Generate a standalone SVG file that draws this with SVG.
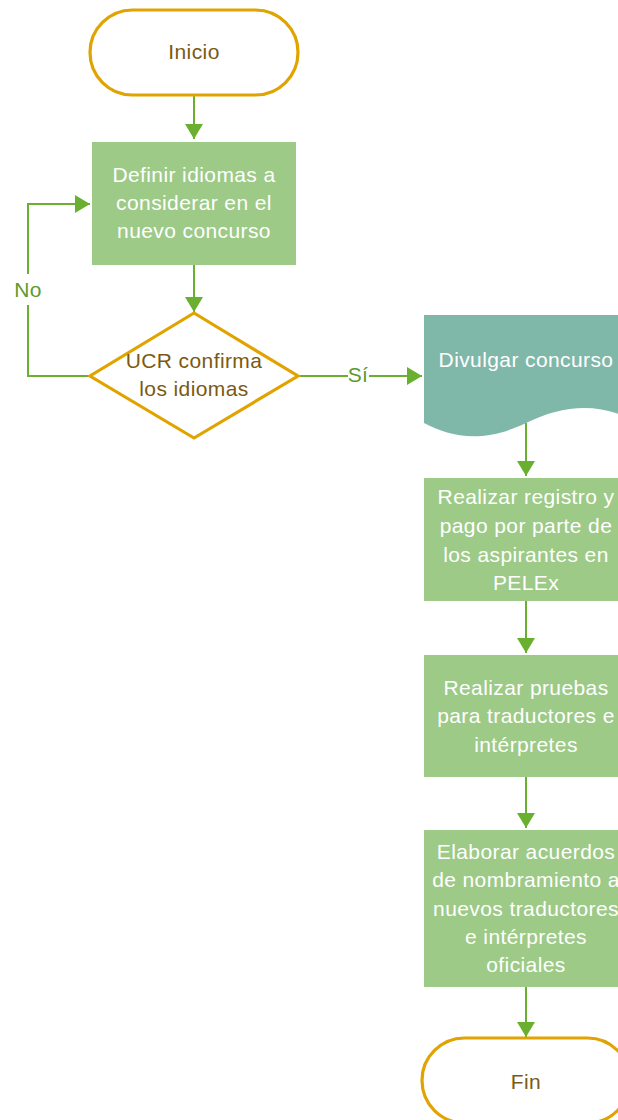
<svg xmlns="http://www.w3.org/2000/svg" width="618" height="1120" viewBox="0 0 618 1120">
<style>
.term{fill:#ffffff;stroke:#e0a300;stroke-width:3.2}
.dec{fill:#ffffff;stroke:#e0a300;stroke-width:3.2}
.proc{fill:#9dca87}
.doc{fill:#7fb8a9}
text{font-family:"Liberation Sans",Arial,sans-serif;font-size:21px;letter-spacing:0.4px;text-anchor:middle}
.tw{fill:#ffffff}
.tb{fill:#7a5a12}
.tl{fill:#5e9a2c}
.con{fill:none;stroke:#6aaf2f;stroke-width:2}
</style>
<defs>
<marker id="ah" markerWidth="15" markerHeight="18" refX="15" refY="9" orient="auto" markerUnits="userSpaceOnUse">
<path d="M0,0 L15,9 L0,18 Z" fill="#6aaf2f"/>
</marker>
</defs>
<g id="connectors">
<path class="con" d="M194,95 V139" marker-end="url(#ah)"/>
<path class="con" d="M194,265 V312" marker-end="url(#ah)"/>
<path class="con" d="M90,376 H28 V305 M28,274 V204 H90" marker-end="url(#ah)"/>
<path class="con" d="M298,376 H348 M369,376 H422" marker-end="url(#ah)"/>
<path class="con" d="M526,423 V476" marker-end="url(#ah)"/>
<path class="con" d="M526,601 V653" marker-end="url(#ah)"/>
<path class="con" d="M526,777 V828" marker-end="url(#ah)"/>
<path class="con" d="M526,987 V1037" marker-end="url(#ah)"/>
<text class="tl" x="28" y="297">No</text>
<text class="tl" x="358" y="382">Sí</text>
</g>
<g id="inicio">
<rect class="term" x="90" y="10" width="208" height="85" rx="42.5" ry="42.5"/>
<text class="tb" x="194" y="59">Inicio</text>
</g>
<g id="definir">
<rect class="proc" x="92" y="142" width="204" height="123"/>
<text class="tw" x="194" y="182">Definir idiomas a</text>
<text class="tw" x="194" y="210">considerar en el</text>
<text class="tw" x="194" y="238">nuevo concurso</text>
</g>
<g id="decision">
<path class="dec" d="M194,313 L298,376 L194,438 L90,376 Z"/>
<text class="tb" x="194" y="368">UCR confirma</text>
<text class="tb" x="194" y="396">los idiomas</text>
</g>
<g id="divulgar">
<path class="doc" d="M424,315 H628 V418 C595,402 560,406 526,423 C480,445 450,436 424,423 Z"/>
<text class="tw" x="526" y="367">Divulgar concurso</text>
</g>
<g id="registro">
<rect class="proc" x="424" y="478" width="204" height="123"/>
<text class="tw" x="526" y="504">Realizar registro y</text>
<text class="tw" x="526" y="533">pago por parte de</text>
<text class="tw" x="526" y="562">los aspirantes en</text>
<text class="tw" x="526" y="590">PELEx</text>
</g>
<g id="pruebas">
<rect class="proc" x="424" y="655" width="204" height="122"/>
<text class="tw" x="526" y="695">Realizar pruebas</text>
<text class="tw" x="526" y="723">para traductores e</text>
<text class="tw" x="526" y="752">intérpretes</text>
</g>
<g id="acuerdos">
<rect class="proc" x="424" y="830" width="204" height="157"/>
<text class="tw" x="526" y="859">Elaborar acuerdos</text>
<text class="tw" x="526" y="887">de nombramiento a</text>
<text class="tw" x="526" y="916">nuevos traductores</text>
<text class="tw" x="526" y="944">e intérpretes</text>
<text class="tw" x="526" y="972">oficiales</text>
</g>
<g id="fin">
<rect class="term" x="422" y="1038" width="208" height="85" rx="42.5" ry="42.5"/>
<text class="tb" x="526" y="1089">Fin</text>
</g>
</svg>
